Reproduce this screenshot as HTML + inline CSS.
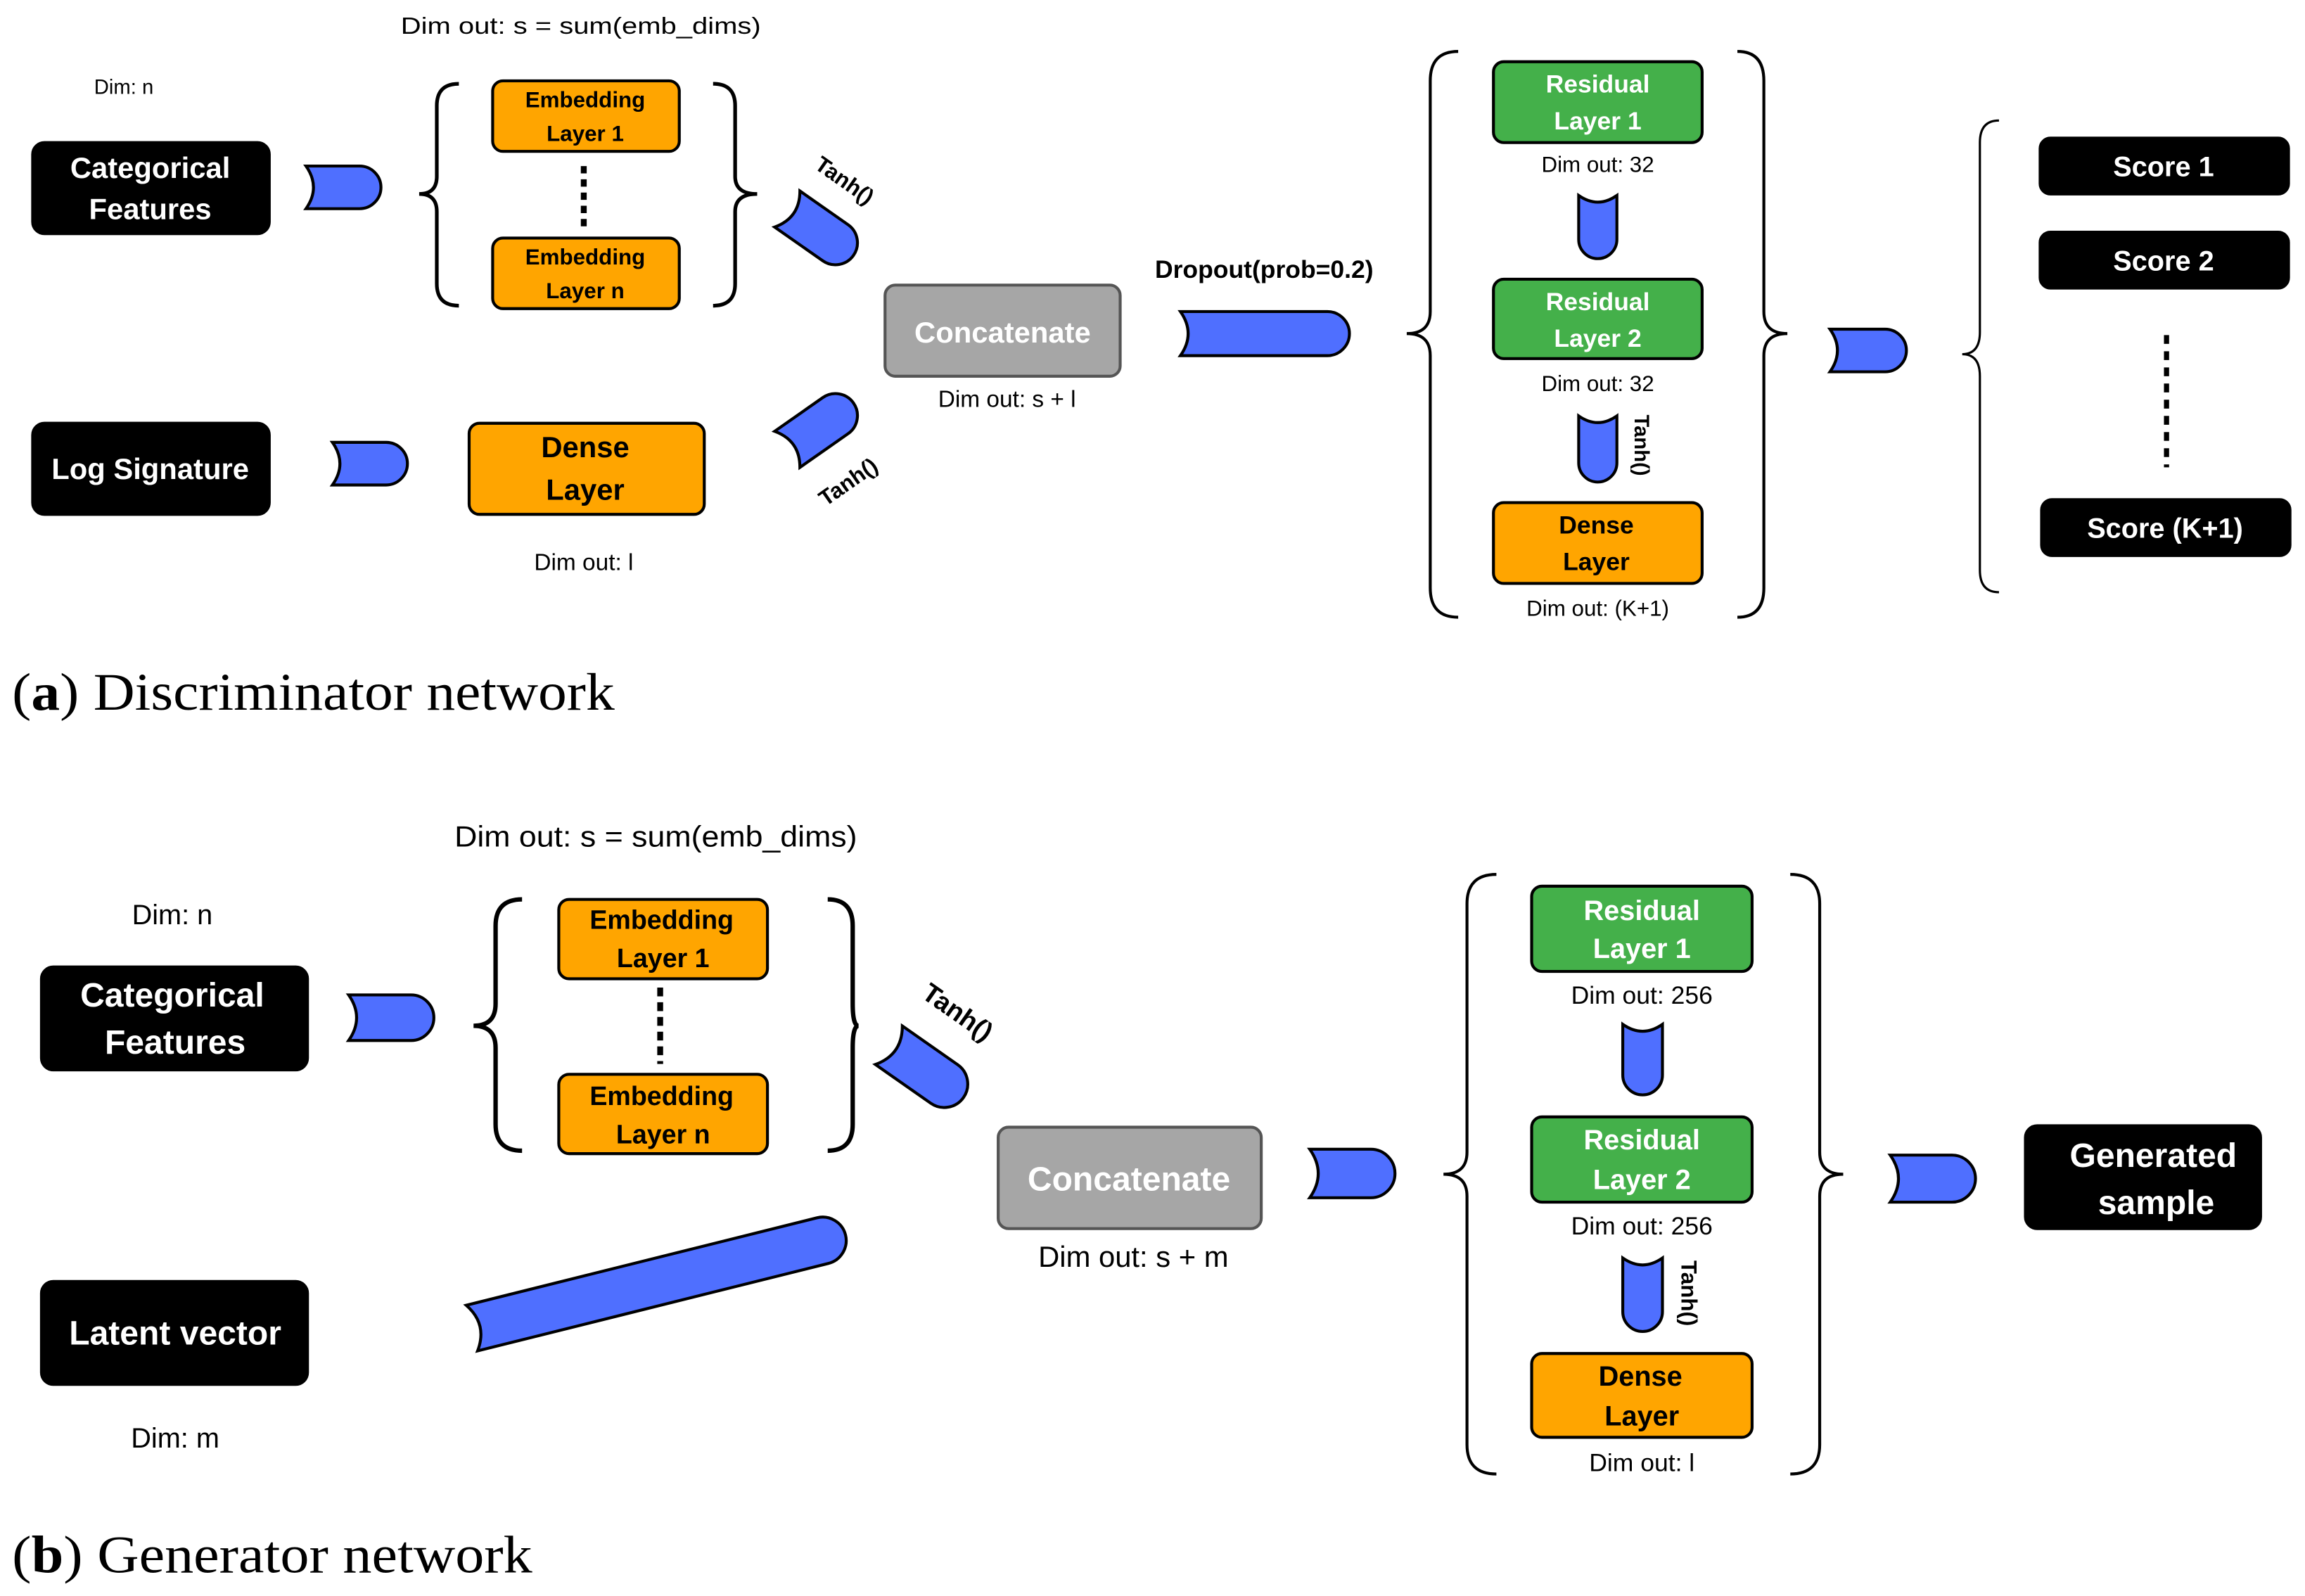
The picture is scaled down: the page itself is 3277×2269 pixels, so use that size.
<!DOCTYPE html>
<html><head><meta charset="utf-8"><style>
html,body{margin:0;padding:0;background:#fff;}
svg{display:block;}
.b{font-family:"Liberation Sans",sans-serif;font-weight:bold;}
.r{font-family:"Liberation Sans",sans-serif;}
.s{font-family:"Liberation Serif",serif;}
.ar{fill:#4F6FFF;stroke:#000;stroke-width:2;}
</style></head><body>
<svg width="3277" height="2269" viewBox="0 0 1568 1086" xmlns="http://www.w3.org/2000/svg">
<g fill="none" stroke="#000" stroke-width="2.5">
<path d="M312,57 Q297,57 297,72 L297,120 Q297,132 285,132 Q297,132 297,144 L297,193 Q297,208 312,208"/>
<path d="M485,57 Q500,57 500,72 L500,120 Q500,132 515,132 Q500,132 500,144 L500,193 Q500,208 485,208"/>
<path d="M992,35 Q973,35 973,55 L973,212 Q973,227 957,227 Q973,227 973,242 L973,400 Q973,420 992,420" stroke-width="2"/>
<path d="M1182,35 Q1200,35 1200,55 L1200,212 Q1200,227 1216,227 Q1200,227 1200,242 L1200,400 Q1200,420 1182,420" stroke-width="2"/>
<path d="M1360,82 Q1347,82 1347,97 L1347,226 Q1347,241 1335,241 Q1347,241 1347,256 L1347,388 Q1347,403 1360,403" stroke-width="1.5"/>
<path d="M355,612 Q337,612 337,630 L337,683 Q337,698 322,698 Q337,698 337,713 L337,765 Q337,783 355,783" stroke-width="3"/>
<path d="M563,612 Q580,612 580,630 L580,683 Q580,698 584,698 Q580,698 580,713 L580,765 Q580,783 563,783" stroke-width="3"/>
<path d="M1018,595 Q998,595 998,615 L998,784 Q998,799 982,799 Q998,799 998,814 L998,983 Q998,1003 1018,1003" stroke-width="2"/>
<path d="M1218,595 Q1238,595 1238,615 L1238,784 Q1238,799 1254,799 Q1238,799 1238,814 L1238,983 Q1238,1003 1218,1003" stroke-width="2"/>
</g>
<line x1="397" y1="113" x2="397" y2="155" stroke="#000" stroke-width="4" stroke-dasharray="5,4"/>
<line x1="1474" y1="228" x2="1474" y2="318" stroke="#000" stroke-width="3.5" stroke-dasharray="6,5"/>
<line x1="449" y1="672" x2="449" y2="724" stroke="#000" stroke-width="4" stroke-dasharray="6,4"/>

<g stroke="#000" stroke-width="2">
<rect x="22" y="97" width="161" height="62" rx="8" fill="#000"/>
<rect x="22" y="288" width="161" height="62" rx="8" fill="#000"/>
<rect x="335" y="55" width="127" height="48" rx="7" fill="#FFA500"/>
<rect x="335" y="162" width="127" height="48" rx="7" fill="#FFA500"/>
<rect x="319" y="288" width="160" height="62" rx="7" fill="#FFA500"/>
<rect x="602" y="194" width="160" height="62" rx="7" fill="#A6A6A6" stroke="#555"/>
<rect x="1016" y="42" width="142" height="55" rx="7" fill="#44B04A"/>
<rect x="1016" y="190" width="142" height="54" rx="7" fill="#44B04A"/>
<rect x="1016" y="342" width="142" height="55" rx="7" fill="#FFA500"/>
<rect x="1388" y="94" width="169" height="38" rx="7" fill="#000"/>
<rect x="1388" y="158" width="169" height="38" rx="7" fill="#000"/>
<rect x="1389" y="340" width="169" height="38" rx="7" fill="#000"/>
</g>
<g stroke="#000" stroke-width="2">
<rect x="28" y="658" width="181" height="70" rx="8" fill="#000"/>
<rect x="28" y="872" width="181" height="70" rx="8" fill="#000"/>
<rect x="380" y="612" width="142" height="54" rx="7" fill="#FFA500"/>
<rect x="380" y="731" width="142" height="54" rx="7" fill="#FFA500"/>
<rect x="679" y="767" width="179" height="69" rx="7" fill="#A6A6A6" stroke="#555"/>
<rect x="1042" y="603" width="150" height="58" rx="7" fill="#44B04A"/>
<rect x="1042" y="760" width="150" height="58" rx="7" fill="#44B04A"/>
<rect x="1042" y="921" width="150" height="57" rx="7" fill="#FFA500"/>
<rect x="1378" y="766" width="160" height="70" rx="8" fill="#000"/>
</g>

<g class="ar">
<path transform="translate(233.5,127.5)" d="M-25.5,-14.5 L11,-14.5 C18.975,-14.5 25.5,-7.975 25.5,0 C25.5,7.975 18.975,14.5 11,14.5 L-25.5,14.5 Q-15.35,0 -25.5,-14.5 Z"/>
<path transform="translate(251.5,315.5)" d="M-25.5,-14.5 L11,-14.5 C18.975,-14.5 25.5,-7.975 25.5,0 C25.5,7.975 18.975,14.5 11,14.5 L-25.5,14.5 Q-15.35,0 -25.5,-14.5 Z"/>
<path transform="translate(558,158) rotate(35)" d="M-27.5,-15 L12.5,-15 C20.75,-15 27.5,-8.25 27.5,0 C27.5,8.25 20.75,15 12.5,15 L-27.5,15 Q-17,0 -27.5,-15 Z"/>
<path transform="translate(558,290) rotate(-35)" d="M-27.5,-15 L12.5,-15 C20.75,-15 27.5,-8.25 27.5,0 C27.5,8.25 20.75,15 12.5,15 L-27.5,15 Q-17,0 -27.5,-15 Z"/>
<path transform="translate(860.5,227)" d="M-57.5,-15 L42.5,-15 C50.75,-15 57.5,-8.25 57.5,0 C57.5,8.25 50.75,15 42.5,15 L-57.5,15 Q-47,0 -57.5,-15 Z"/>
<path transform="translate(1087,154.5) rotate(90)" d="M-21.5,-13 L8.5,-13 C15.65,-13 21.5,-7.15 21.5,0 C21.5,7.15 15.65,13 8.5,13 L-21.5,13 Q-12.4,0 -21.5,-13 Z"/>
<path transform="translate(1087,305.5) rotate(90)" d="M-22.5,-13 L9.5,-13 C16.65,-13 22.5,-7.15 22.5,0 C22.5,7.15 16.65,13 9.5,13 L-22.5,13 Q-13.4,0 -22.5,-13 Z"/>
<path transform="translate(1271,238.5)" d="M-26,-14.5 L11.5,-14.5 C19.475,-14.5 26,-7.975 26,0 C26,7.975 19.475,14.5 11.5,14.5 L-26,14.5 Q-15.85,0 -26,-14.5 Z"/>
<path transform="translate(266,692.5)" d="M-29,-15.5 L13.5,-15.5 C22.025,-15.5 29,-8.525 29,0 C29,8.525 22.025,15.5 13.5,15.5 L-29,15.5 Q-18.15,0 -29,-15.5 Z"/>
<path transform="translate(630,729) rotate(35)" d="M-31,-16 L15,-16 C23.8,-16 31,-8.8 31,0 C31,8.8 23.8,16 15,16 L-31,16 Q-19.8,0 -31,-16 Z"/>
<path transform="translate(448,872) rotate(-14)" d="M-131,-16 L115,-16 C123.8,-16 131,-8.8 131,0 C131,8.8 123.8,16 115,16 L-131,16 Q-119.8,0 -131,-16 Z"/>
<path transform="translate(920,798.5)" d="M-29,-16.5 L12.5,-16.5 C21.575,-16.5 29,-9.075 29,0 C29,9.075 21.575,16.5 12.5,16.5 L-29,16.5 Q-17.45,0 -29,-16.5 Z"/>
<path transform="translate(1117.5,721) rotate(90)" d="M-24,-13.5 L10.5,-13.5 C17.925,-13.5 24,-7.425 24,0 C24,7.425 17.925,13.5 10.5,13.5 L-24,13.5 Q-14.55,0 -24,-13.5 Z"/>
<path transform="translate(1117.5,881) rotate(90)" d="M-25,-13.5 L11.5,-13.5 C18.925,-13.5 25,-7.425 25,0 C25,7.425 18.925,13.5 11.5,13.5 L-25,13.5 Q-15.55,0 -25,-13.5 Z"/>
<path transform="translate(1315,802)" d="M-29,-16 L13,-16 C21.8,-16 29,-8.8 29,0 C29,8.8 21.8,16 13,16 L-29,16 Q-17.8,0 -29,-16 Z"/>
</g>

<g class="r" fill="#000" text-anchor="middle">
<text x="395" y="23" font-size="16" textLength="245" lengthAdjust="spacingAndGlyphs">Dim out: s = sum(emb_dims)</text>
<text x="84" y="64" font-size="14">Dim: n</text>
<text x="685" y="277" font-size="16">Dim out: s + l</text>
<text x="397" y="388" font-size="16">Dim out: l</text>
<text x="1087" y="117" font-size="15">Dim out:  32</text>
<text x="1087" y="266" font-size="15">Dim out:  32</text>
<text x="1087" y="419" font-size="15">Dim out:  (K+1)</text>
</g>
<g class="b" fill="#fff" text-anchor="middle">
<text x="102" y="121" font-size="20">Categorical</text>
<text x="102" y="149" font-size="20">Features</text>
<text x="102" y="326" font-size="20">Log Signature</text>
<text x="682" y="233" font-size="20">Concatenate</text>
<text x="1087" y="63" font-size="17">Residual</text>
<text x="1087" y="88" font-size="17">Layer 1</text>
<text x="1087" y="211" font-size="17">Residual</text>
<text x="1087" y="236" font-size="17">Layer 2</text>
<text x="1472" y="120" font-size="19">Score 1</text>
<text x="1472" y="184" font-size="19">Score 2</text>
<text x="1473" y="366" font-size="19">Score (K+1)</text>
</g>
<g class="b" fill="#000" text-anchor="middle">
<text x="398" y="73" font-size="15">Embedding</text>
<text x="398" y="96" font-size="15">Layer 1</text>
<text x="398" y="180" font-size="15">Embedding</text>
<text x="398" y="203" font-size="15">Layer n</text>
<text x="398" y="311" font-size="20">Dense</text>
<text x="398" y="340" font-size="20">Layer</text>
<text x="1086" y="363" font-size="17">Dense</text>
<text x="1086" y="388" font-size="17">Layer</text>
<text x="860" y="189" font-size="17">Dropout(prob=0.2)</text>
<text x="575" y="128" font-size="15" transform="rotate(35 575 122)">Tanh()</text>
<text x="577" y="333" font-size="15" transform="rotate(-35 577 328)">Tanh()</text>
<text x="1117" y="308" font-size="14" transform="rotate(90 1117 303)">Tanh()</text>
</g>
<text class="s" x="8" y="483" font-size="36" fill="#000" textLength="410" lengthAdjust="spacingAndGlyphs">(<tspan font-weight="bold">a</tspan>) Discriminator network</text>

<g class="r" fill="#000" text-anchor="middle">
<text x="446" y="576" font-size="20" textLength="274" lengthAdjust="spacingAndGlyphs">Dim out: s = sum(emb_dims)</text>
<text x="117" y="629" font-size="19">Dim: n</text>
<text x="771" y="862" font-size="20">Dim out: s + m</text>
<text x="119" y="985" font-size="19">Dim: m</text>
<text x="1117" y="683" font-size="17">Dim out:  256</text>
<text x="1117" y="840" font-size="17">Dim out:  256</text>
<text x="1117" y="1001" font-size="17">Dim out: l</text>
</g>
<g class="b" fill="#fff" text-anchor="middle">
<text x="117" y="685" font-size="23">Categorical</text>
<text x="119" y="717" font-size="23">Features</text>
<text x="119" y="915" font-size="23">Latent vector</text>
<text x="768" y="810" font-size="23">Concatenate</text>
<text x="1117" y="626" font-size="19">Residual</text>
<text x="1117" y="652" font-size="19">Layer 1</text>
<text x="1117" y="782" font-size="19">Residual</text>
<text x="1117" y="809" font-size="19">Layer 2</text>
<text x="1465" y="794" font-size="23">Generated</text>
<text x="1467" y="826" font-size="23">sample</text>
</g>
<g class="b" fill="#000" text-anchor="middle">
<text x="450" y="632" font-size="18">Embedding</text>
<text x="451" y="658" font-size="18">Layer 1</text>
<text x="450" y="752" font-size="18">Embedding</text>
<text x="451" y="778" font-size="18">Layer n</text>
<text x="1116" y="943" font-size="19">Dense</text>
<text x="1117" y="970" font-size="19">Layer</text>
<text x="652" y="695" font-size="18" transform="rotate(35 652 688)">Tanh()</text>
<text x="1150" y="886" font-size="15" transform="rotate(90 1150 880)">Tanh()</text>
</g>
<text class="s" x="8" y="1070" font-size="36" fill="#000" textLength="354" lengthAdjust="spacingAndGlyphs">(<tspan font-weight="bold">b</tspan>) Generator network</text>
</svg>
</body></html>
